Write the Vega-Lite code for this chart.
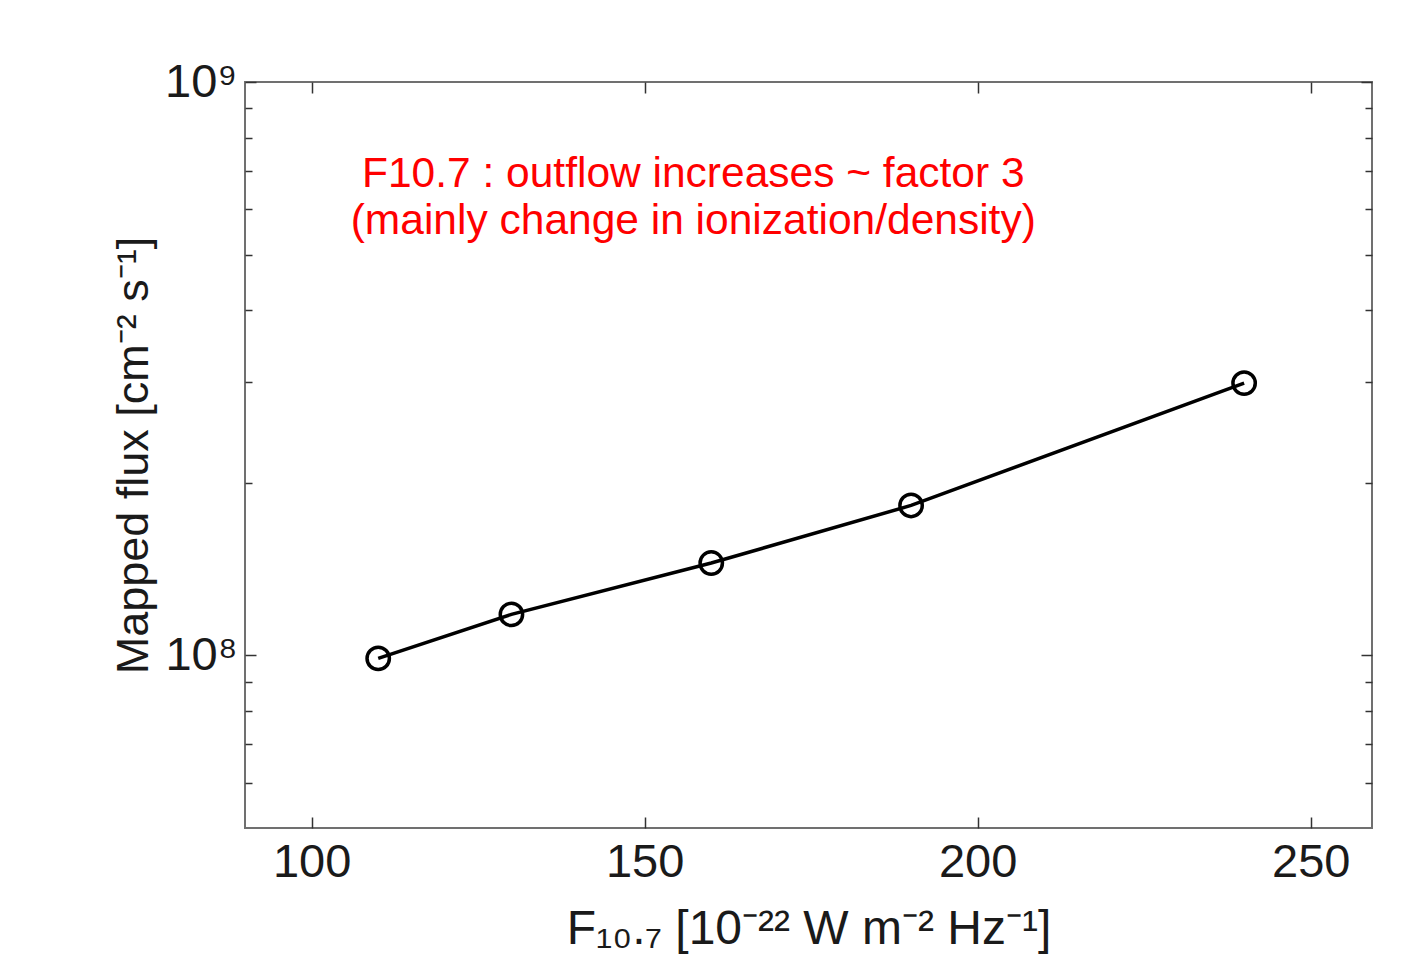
{
  "$schema": "https://vega.github.io/schema/vega-lite/v6.json",
  "width": 1127,
  "height": 746,
  "autosize": {"type": "none"},
  "padding": {"left": 245, "top": 82, "right": 50, "bottom": 138},
  "background": "white",
  "config": {
    "view": {"stroke": "#707070", "strokeWidth": 2},
    "font": "Liberation Sans"
  },
  "datasets": {
    "flux": [
      {"f107": 110, "flux": 98800000},
      {"f107": 130, "flux": 117900000},
      {"f107": 160, "flux": 144900000},
      {"f107": 190, "flux": 182600000},
      {"f107": 240, "flux": 298500000}
    ],
    "note": [
      {"x": 157.3, "y": 655000000, "text": ["F10.7 : outflow increases ~ factor 3", "(mainly change in ionization/density)"]}
    ]
  },
  "layer": [
    {
      "data": {"name": "flux"},
      "mark": {"type": "line", "color": "black", "strokeWidth": 3.5},
      "encoding": {
        "x": {
          "field": "f107", "type": "quantitative",
          "scale": {"domain": [90, 259.2], "nice": false, "zero": false},
          "axis": {
            "orient": "bottom", "values": [100, 150, 200, 250],
            "tickSize": -11, "tickColor": "#333333", "tickWidth": 1.5,
            "domain": false, "grid": false,
            "labelFont": "Liberation Sans", "labelFontSize": 47, "labelColor": "#1a1a1a", "labelPadding": 22,
            "title": "F₁₀.₇ [10⁻²² W m⁻² Hz⁻¹]",
            "titleFont": "Liberation Sans", "titleFontSize": 48, "titleFontWeight": "normal", "titleColor": "#1a1a1a", "titlePadding": 20
          }
        },
        "y": {
          "field": "flux", "type": "quantitative",
          "scale": {"type": "log", "domain": [50000000, 1000000000], "nice": false},
          "axis": {
            "orient": "left",
            "values": [60000000, 70000000, 80000000, 90000000, 100000000, 200000000, 300000000, 400000000, 500000000, 600000000, 700000000, 800000000, 900000000, 1000000000],
            "labelExpr": "datum.value == 100000000 ? '10⁸' : (datum.value == 1000000000 ? '10⁹' : '')",
            "tickSize": {"condition": {"test": "datum.value == 100000000 || datum.value == 1000000000", "value": -11}, "value": -7},
            "tickColor": "#333333", "tickWidth": 1.5,
            "domain": false, "grid": false,
            "labelFont": "Liberation Sans", "labelFontSize": 47, "labelColor": "#1a1a1a", "labelPadding": 19,
            "title": "Mapped flux [cm⁻² s⁻¹]",
            "titleFont": "Liberation Sans", "titleFontSize": 45, "titleFontWeight": "normal", "titleColor": "#1a1a1a", "titlePadding": 8
          }
        }
      }
    },
    {
      "data": {"name": "flux"},
      "mark": {"type": "point", "shape": "circle", "filled": false, "color": "black", "strokeWidth": 3.5, "size": 500, "opacity": 1},
      "encoding": {
        "x": {
          "field": "f107", "type": "quantitative",
          "axis": {
            "orient": "top", "values": [100, 150, 200, 250],
            "tickSize": -11, "tickColor": "#333333", "tickWidth": 1.5,
            "domain": false, "grid": false, "labels": false, "title": null
          }
        },
        "y": {
          "field": "flux", "type": "quantitative",
          "axis": {
            "orient": "right",
            "values": [60000000, 70000000, 80000000, 90000000, 100000000, 200000000, 300000000, 400000000, 500000000, 600000000, 700000000, 800000000, 900000000, 1000000000],
            "tickSize": {"condition": {"test": "datum.value == 100000000 || datum.value == 1000000000", "value": -11}, "value": -7},
            "tickColor": "#333333", "tickWidth": 1.5,
            "domain": false, "grid": false, "labels": false, "title": null
          }
        }
      }
    },
    {
      "data": {"name": "note"},
      "mark": {"type": "text", "color": "#ff0000", "font": "Liberation Sans", "fontSize": 42.5, "align": "center", "baseline": "alphabetic", "lineHeight": 47},
      "encoding": {
        "x": {"field": "x", "type": "quantitative", "axis": null},
        "y": {"field": "y", "type": "quantitative", "axis": null},
        "text": {"field": "text"}
      }
    }
  ],
  "resolve": {"axis": {"x": "independent", "y": "independent"}}
}
